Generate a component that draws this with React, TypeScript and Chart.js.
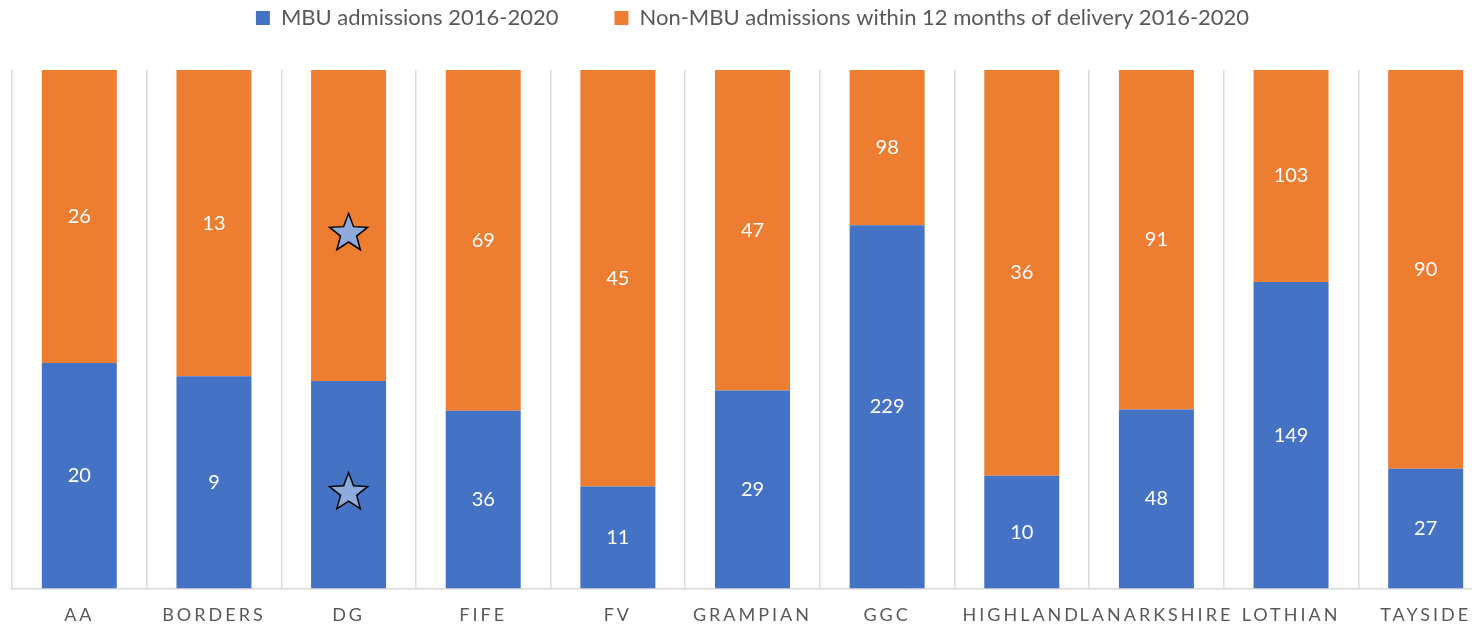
import React, { useEffect, useRef } from 'react';
import { Chart, registerables } from 'chart.js';

Chart.register(...registerables);

const categories = ['AA', 'BORDERS', 'DG', 'FIFE', 'FV', 'GRAMPIAN', 'GGC', 'HIGHLAND', 'LANARKSHIRE', 'LOTHIAN', 'TAYSIDE'];
// DG counts are suppressed in the source (shown as stars); values estimated from bar proportions
const mbuAdmissions = [20, 9, 4, 36, 11, 29, 229, 10, 48, 149, 27];
const nonMbuAdmissions = [26, 13, 6, 69, 45, 47, 98, 36, 91, 103, 90];
const suppressedCategories = ['DG'];
const seriesNames = ['MBU admissions 2016-2020', 'Non-MBU admissions within 12 months of delivery 2016-2020'];

const FONT = 'Lato, "Open Sans", sans-serif';
const LEGEND_PAD = 56;

function drawStar(ctx: CanvasRenderingContext2D, cx: number, cy: number, R: number, r: number) {
  ctx.save();
  ctx.beginPath();
  for (let k = 0; k < 10; k++) {
    const rad = k % 2 === 0 ? R : r;
    const a = -Math.PI / 2 + (k * Math.PI) / 5;
    const px = cx + rad * Math.cos(a);
    const py = cy + rad * Math.sin(a);
    if (k === 0) ctx.moveTo(px, py);
    else ctx.lineTo(px, py);
  }
  ctx.closePath();
  ctx.fillStyle = '#8faadc';
  ctx.fill();
  ctx.lineWidth = 1.5;
  ctx.strokeStyle = '#000000';
  ctx.stroke();
  ctx.restore();
}

const labelPlugin = {
  id: 'barLabels',
  afterInit(chart: any) {
    const legend = chart.legend;
    if (legend) {
      const orig = legend.fit;
      legend.fit = function () {
        orig.call(this);
        this.height += 31;
      };
    }
  },
  beforeDraw(chart: any) {
    (chart.ctx as any).letterSpacing = '0px';
  },
  afterDatasetsDraw(chart: any) {
    const ctx = chart.ctx as CanvasRenderingContext2D;
    const counts = [mbuAdmissions, nonMbuAdmissions];
    chart.data.datasets.forEach((_ds: any, di: number) => {
      const meta = chart.getDatasetMeta(di);
      meta.data.forEach((bar: any, i: number) => {
        const { x, y, base } = bar.getProps(['x', 'y', 'base'], true);
        const cy = (y + base) / 2;
        if (suppressedCategories.includes(categories[i])) {
          drawStar(ctx, x, cy + 8, 20, 8.5);
        } else {
          ctx.save();
          ctx.fillStyle = '#ffffff';
          ctx.font = `20px ${FONT}`;
          ctx.textAlign = 'center';
          ctx.textBaseline = 'middle';
          ctx.fillText(String(counts[di][i]), x, cy);
          ctx.restore();
        }
      });
    });
    (ctx as any).letterSpacing = '3px';
  },
  afterDraw(chart: any) {
    (chart.ctx as any).letterSpacing = '0px';
  },
};

export default function App() {
  const ref = useRef<HTMLCanvasElement>(null);
  useEffect(() => {
    const totals = mbuAdmissions.map((v, i) => v + nonMbuAdmissions[i]);
    const mbuPct = mbuAdmissions.map((v, i) => (v / totals[i]) * 100);
    const nonPct = nonMbuAdmissions.map((v, i) => (v / totals[i]) * 100);
    const chart = new Chart(ref.current!, {
      type: 'bar',
      data: {
        labels: categories,
        datasets: [
          { label: seriesNames[0], data: mbuPct, backgroundColor: '#4472c4', borderWidth: 0 },
          { label: seriesNames[1], data: nonPct, backgroundColor: '#ed7d31', borderWidth: 0 },
        ],
      },
      options: {
        animation: false,
        responsive: false,
        layout: { padding: { left: 12, right: 7, top: 18 - LEGEND_PAD - 11, bottom: -14 } },
        datasets: { bar: { categoryPercentage: 1, barPercentage: 0.557 } },
        plugins: {
          legend: {
            position: 'top',
            labels: {
              boxWidth: 14,
              boxHeight: 14,
              padding: LEGEND_PAD,
              color: '#595959',
              font: { family: FONT, size: 22 },
            },
          },
          tooltip: { enabled: false },
        },
        scales: {
          x: {
            stacked: true,
            grid: {
              display: true,
              offset: true,
              color: (c: any) => (c.index >= categories.length ? 'rgba(0,0,0,0)' : '#d9d9d9'),
              lineWidth: 1.5,
              drawTicks: false,
            },
            border: { display: true, color: '#d9d9d9', width: 1.5 },
            ticks: { color: '#595959', font: { family: FONT, size: 18 }, padding: 16, maxRotation: 0, autoSkip: false, z: 1 },
          },
          y: {
            stacked: true,
            display: false,
            min: 0,
            max: 100,
          },
        },
      },
      plugins: [labelPlugin],
    });
    return () => chart.destroy();
  }, []);
  return (
    <div style={{ position: 'fixed', left: 0, top: 0, width: 1479, height: 628, background: '#fff' }}>
      <div style={{ width: 1472, height: 628, overflow: 'hidden' }}>
        <canvas ref={ref} width={1500} height={628} style={{ display: 'block' }} />
      </div>
    </div>
  );
}
